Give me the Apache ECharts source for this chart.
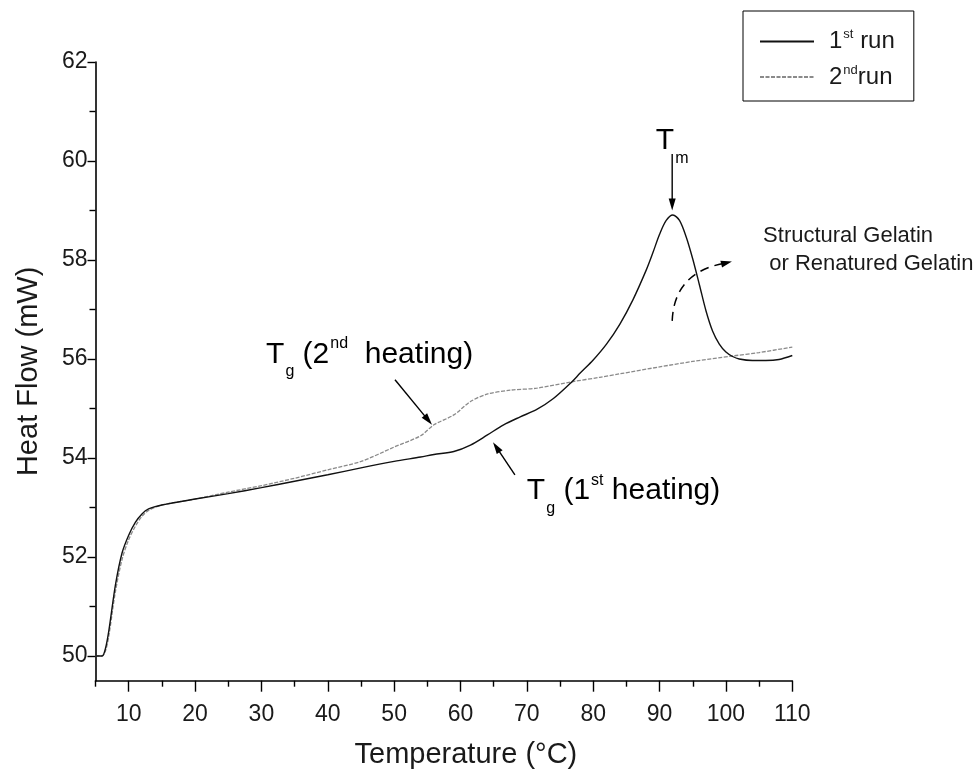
<!DOCTYPE html>
<html>
<head>
<meta charset="utf-8">
<script src="https://cdn.jsdelivr.net/npm/echarts@6/dist/echarts.min.js"></script>
<style>
html, body { margin: 0; background: #fff; }
#chart { width: 974px; height: 776px; }
</style>
</head>
<body>
<div id="chart"></div>
<script>
// DSC traces (temperature in degC, heat flow in mW)
var run1T = [5, 6, 6.5, 7, 8, 9, 10, 11, 12, 13, 15, 20, 25, 30, 35, 40, 45, 50, 54, 56, 59, 61.5, 64, 66.5, 69, 71.5, 74, 76.8, 78, 80, 82, 84, 86, 88, 89, 90, 91, 92, 93, 94, 95, 96, 97, 98, 99, 100, 101, 102, 104, 106, 108, 110];
var run1Q = [50.0, 50.0, 50.15, 50.5, 51.43, 52.08, 52.44, 52.7, 52.87, 52.97, 53.05, 53.17, 53.28, 53.4, 53.53, 53.66, 53.8, 53.93, 54.02, 54.07, 54.13, 54.26, 54.46, 54.67, 54.83, 54.98, 55.2, 55.54, 55.71, 55.98, 56.3, 56.7, 57.2, 57.8, 58.15, 58.52, 58.8, 58.91, 58.8, 58.47, 58.02, 57.5, 56.97, 56.56, 56.3, 56.14, 56.05, 56.0, 55.97, 55.97, 55.99, 56.07];
var run2T = [5, 6, 6.5, 7, 8, 9, 10, 11, 12, 13, 15, 20, 25, 30, 35, 40, 45, 50, 54, 56, 59, 61.5, 64, 67.5, 71.5, 76.8, 81, 84, 90, 95, 101, 105, 110];
var run2Q = [50.0, 50.0, 50.1, 50.4, 51.3, 51.95, 52.35, 52.62, 52.82, 52.94, 53.05, 53.17, 53.31, 53.44, 53.59, 53.76, 53.93, 54.22, 54.45, 54.67, 54.87, 55.14, 55.29, 55.37, 55.41, 55.54, 55.63, 55.7, 55.84, 55.95, 56.06, 56.13, 56.24];

var seriesNames = ['1st run', '2nd run'];
var xTicks = [10, 20, 30, 40, 50, 60, 70, 80, 90, 100, 110];
var xMinorTicks = [5, 15, 25, 35, 45, 55, 65, 75, 85, 95, 105];
var yTicks = [50, 52, 54, 56, 58, 60, 62];
var yMinorTicks = [51, 53, 55, 57, 59, 61];

var FONT = "'Liberation Sans', Arial, sans-serif";
var INK = '#1a1a1a';

var chartDom = document.getElementById('chart');
var myChart = echarts.init(chartDom);

function pairs(xs, ys) {
    return xs.map(function (x, i) { return [x, ys[i]]; });
}

var legendText = {
    '1st run': '{b|1}{s|st}{b| run}',
    '2nd run': '{b|2}{s|nd}{b|run}'
};

var option = {
    backgroundColor: '#fff',
    animation: false,
    grid: { left: 95.5, right: 181.7, top: 62, bottom: 95.3 },
    legend: {
        orient: 'vertical',
        left: 743,
        top: 11,
        padding: [17, 19, 12, 16],
        itemWidth: 54,
        itemHeight: 14,
        itemGap: 10,
        selectedMode: false,
        borderColor: '#000',
        borderWidth: 1,
        backgroundColor: '#fff',
        data: seriesNames,
        itemStyle: { opacity: 0 },
        formatter: function (name) { return legendText[name]; },
        textStyle: {
            padding: [0, 0, 0, 10],
            rich: {
                b: { fontFamily: FONT, fontSize: 24, color: INK },
                s: { fontFamily: FONT, fontSize: 13, color: INK, padding: [0, 0, 14, 1] }
            }
        }
    },
    xAxis: [
        {
            type: 'value',
            min: 5,
            max: 110,
            name: 'Temperature (°C)',
            nameLocation: 'middle',
            nameGap: 60,
            nameTextStyle: { fontFamily: FONT, fontSize: 29, color: INK, padding: [0, 0, 0, 44] },
            axisLine: { lineStyle: { color: '#000', width: 1.6 } },
            axisTick: { length: 11, customValues: xTicks, lineStyle: { color: '#000', width: 1.4 } },
            axisLabel: { customValues: xTicks, margin: 22, fontFamily: FONT, fontSize: 23, color: INK },
            splitLine: { show: false }
        },
        {
            type: 'value',
            min: 5,
            max: 110,
            position: 'bottom',
            axisLine: { show: false },
            axisTick: { length: 6, customValues: xMinorTicks, lineStyle: { color: '#000', width: 1.4 } },
            axisLabel: { show: false },
            splitLine: { show: false }
        }
    ],
    yAxis: [
        {
            type: 'value',
            min: 49.5,
            max: 62,
            name: 'Heat Flow (mW)',
            nameLocation: 'middle',
            nameGap: 52,
            nameTextStyle: { fontFamily: FONT, fontSize: 29, color: INK },
            axisLine: { show: true, lineStyle: { color: '#000', width: 1.6 } },
            axisTick: { show: true, length: 8, customValues: yTicks, lineStyle: { color: '#000', width: 1.4 } },
            axisLabel: { customValues: yTicks, margin: 8, fontFamily: FONT, fontSize: 23, color: INK },
            splitLine: { show: false }
        },
        {
            type: 'value',
            min: 49.5,
            max: 62,
            position: 'left',
            axisLine: { show: false },
            axisTick: { show: true, length: 6, customValues: yMinorTicks, lineStyle: { color: '#000', width: 1.4 } },
            axisLabel: { show: false },
            splitLine: { show: false }
        }
    ],
    series: [
        {
            name: seriesNames[1],
            type: 'line',
            symbol: 'none',
            smooth: 0.3,
            data: pairs(run2T, run2Q),
            itemStyle: { color: '#8a8a8a' },
            lineStyle: { color: '#8a8a8a', width: 1.3, type: [4, 1.5] },
            z: 2
        },
        {
            name: seriesNames[0],
            type: 'line',
            symbol: 'none',
            smooth: 0.3,
            data: pairs(run1T, run1Q),
            itemStyle: { color: '#111' },
            lineStyle: { color: '#111', width: 1.4 },
            z: 3
        }
    ]
};

myChart.setOption(option);

// annotation anchors, in data coordinates
var tmLabelAt = [91.9, 60.4];
var tmArrow = [[91.9, 60.14], [91.9, 59.0]];
var tg2LabelAt = [30.7, 56.08];
var tg2Arrow = [[50.13, 55.58], [55.71, 54.67]];
var tg1LabelAt = [70.0, 53.33];
var tg1Arrow = [[68.2, 53.66], [64.9, 54.32]];
var gelLabelAt = [105.6, 58.2];
var gelCurve = [[91.9, 56.77], [92.2, 57.76], [100.0, 57.94], [100.9, 57.97]];

function toPx(p) {
    return myChart.convertToPixel({ xAxisIndex: 0, yAxisIndex: 0 }, p);
}

function arrowHead(tip, from, len, half) {
    var dx = tip[0] - from[0], dy = tip[1] - from[1];
    var d = Math.sqrt(dx * dx + dy * dy);
    var ux = dx / d, uy = dy / d;
    var bx = tip[0] - ux * len, by = tip[1] - uy * len;
    return {
        type: 'polygon',
        shape: { points: [tip, [bx - uy * half, by + ux * half], [bx + uy * half, by - ux * half]] },
        style: { fill: '#000' }
    };
}

function arrow(a, b) {
    var p0 = toPx(a), p1 = toPx(b);
    var dx = p1[0] - p0[0], dy = p1[1] - p0[1];
    var d = Math.sqrt(dx * dx + dy * dy);
    var e = [p1[0] - dx / d * 9, p1[1] - dy / d * 9];
    return [
        { type: 'line', shape: { x1: p0[0], y1: p0[1], x2: e[0], y2: e[1] }, style: { stroke: '#000', lineWidth: 1.4 } },
        arrowHead(p1, p0, 12, 3.5)
    ];
}

var labelRich = {
    b: { fontFamily: FONT, fontSize: 30, color: INK },
    sub: { fontFamily: FONT, fontSize: 16, color: INK, padding: [34, 0, 0, 1] },
    sup: { fontFamily: FONT, fontSize: 16, color: INK, padding: [0, 0, 22, 1] }
};

function label(at, text, align) {
    var p = toPx(at);
    return {
        type: 'text',
        x: p[0],
        y: p[1],
        style: { text: text, rich: labelRich, align: align || 'left', verticalAlign: 'middle' }
    };
}

var g0 = toPx(gelCurve[0]), g1 = toPx(gelCurve[1]), g2 = toPx(gelCurve[2]), g3 = toPx(gelCurve[3]);
var gelPos = toPx(gelLabelAt);

var elements = []
    .concat(arrow(tmArrow[0], tmArrow[1]))
    .concat(arrow(tg2Arrow[0], tg2Arrow[1]))
    .concat(arrow(tg1Arrow[0], tg1Arrow[1]))
    .concat([
        label(tmLabelAt, '{b|T}{sub|m}', 'center'),
        label(tg2LabelAt, '{b|T}{sub|g}{b| (2}{sup|nd}{b|  heating)}'),
        label(tg1LabelAt, '{b|T}{sub|g}{b| (1}{sup|st}{b| heating)}'),
        {
            type: 'bezierCurve',
            shape: { x1: g0[0], y1: g0[1], cpx1: g1[0], cpy1: g1[1], x2: g2[0], y2: g2[1] },
            style: { stroke: '#000', lineWidth: 1.5, lineDash: [9, 6], fill: null }
        },
        arrowHead(g3, g2, 11, 3.5),
        {
            type: 'text',
            x: gelPos[0],
            y: gelPos[1],
            style: {
                text: 'Structural Gelatin\n or Renatured Gelatin',
                fontFamily: FONT,
                fontSize: 22,
                lineHeight: 28,
                fill: INK,
                align: 'left',
                verticalAlign: 'middle'
            }
        }
    ]);

myChart.setOption({ graphic: { elements: elements } });

window.addEventListener('resize', function () {
    myChart.resize();
});
</script>
</body>
</html>
